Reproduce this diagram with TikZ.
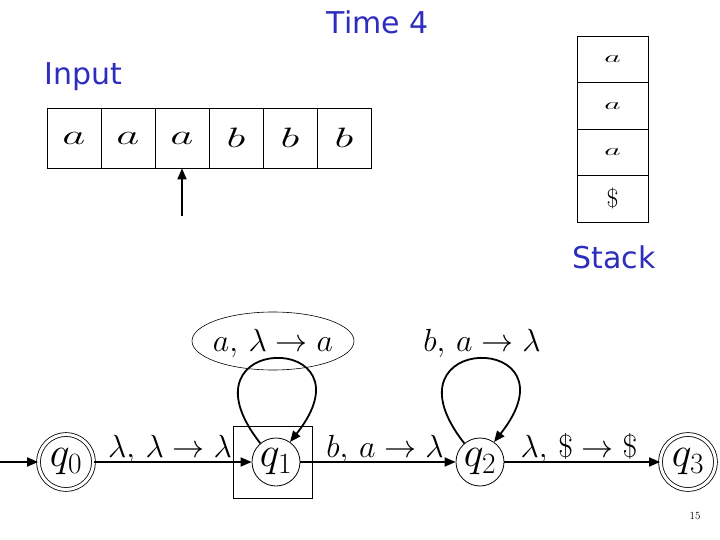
\RequirePackage{fix-cm}
\documentclass[tikz,border=0pt]{standalone}
\usepackage{fontspec}
\usepackage{graphicx}
\newfontfamily\slidefont{DejaVu Sans}
\usetikzlibrary{arrows.meta,positioning}
\definecolor{slideblue}{RGB}{45,45,190}
\newcommand{\tapesym}[1]{\scalebox{1.6}[1]{$#1$}}

\begin{document}
\begin{tikzpicture}[
  x=1pt, y=-1pt,
  >={Triangle[length=11pt,width=9pt]},
  cell/.style={draw, line width=0.7pt, minimum width=54pt, minimum height=60pt, inner sep=0pt, font=\fontsize{28}{30}\selectfont},
  slot/.style={draw, line width=0.7pt, minimum width=71pt, minimum height=46.5pt, inner sep=0pt},
  state/.style={circle, draw, line width=0.8pt, minimum size=48pt, inner sep=0pt, font=\fontsize{42}{44}\selectfont},
  accept/.style={state, minimum size=55pt, double, double distance=3pt},
  title/.style={text=slideblue, font=\slidefont\fontsize{30}{34}\selectfont},
  trans/.style={anchor=base, font=\fontsize{32}{36}\selectfont},
  arrow/.style={->, line width=1.8pt}
]
\useasboundingbox (0,0) rectangle (720,540);

\node[title] (time) at (378,22) {Time 4};
\node[title] (inlbl) at (83,77) {Input};
\node[title] (stlbl) at (614,257) {Stack};

% input tape and head
\foreach \sym [count=\i] in {a,a,a,b,b,b}
  \node[cell] (c\i) at ({20+54*\i},138) {\tapesym{\sym}};
\coordinate (head) at (182,216);
\draw[arrow] (head) -- (c3.south);

% stack
\foreach \j in {1,2,3}
  \node[slot, font=\fontsize{20}{22}\selectfont] (s\j) at (612.5,{12.75+46.5*\j}) {\scalebox{1.6}[0.8]{$a$}};
\node[slot, font=\fontsize{26}{28}\selectfont] (s4) at (612.5,198.75) {$\$$};

% automaton
\node[draw, line width=0.8pt, minimum width=79pt, minimum height=72pt] (cur) at (272.5,462) {};
\node[accept] (q0) at (66,462) {$q_0$};
\node[state] (q1) at (276,462) {$q_1$};
\node[state] (q2) at (480,462) {$q_2$};
\node[accept] (q3) at (688,462) {$q_3$};
\coordinate (start) at (0,462);

\node[trans] (t01) at (170,457) {$\lambda,\,\lambda\to\lambda$};
\node[trans] (t12) at (385,457) {$b,\,a\to\lambda$};
\node[trans] (t23) at (579,457) {$\lambda,\,\$\to\$$};
\node[trans] (t11) at (273,351) {$a,\,\lambda\to a$};
\node[trans] (t22) at (482,351) {$b,\,a\to\lambda$};
\draw[line width=0.6pt] (273,341) ellipse [x radius=81pt, y radius=29pt];

\draw[arrow] (start) -- (q0);
\draw[arrow] (q0) -- (q1);
\draw[arrow] (q1) -- (q2);
\draw[arrow] (q2) -- (q3);
\draw[arrow] (q1.130) .. controls (172,331) and (378,331) .. (q1.55);
\draw[arrow] (q2.130) .. controls (376,331) and (582,331) .. (q2.55);

\node[font=\fontsize{11}{13}\selectfont] (pg) at (695,516) {15};
\end{tikzpicture}
\end{document}
